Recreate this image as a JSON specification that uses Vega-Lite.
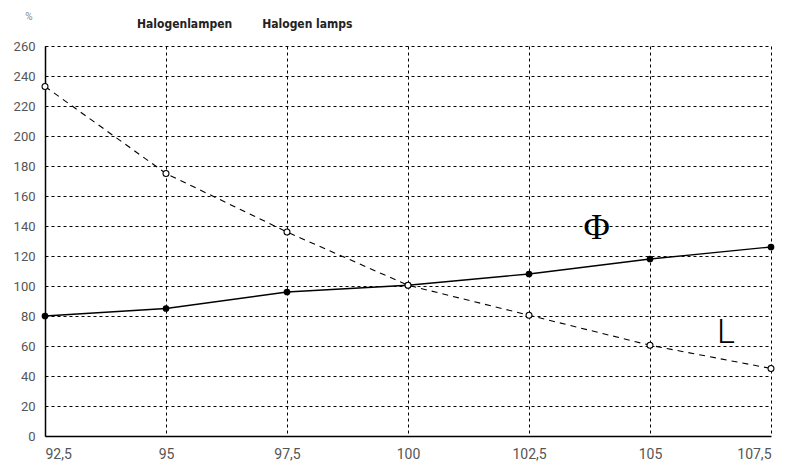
{
  "$schema": "https://vega.github.io/schema/vega-lite/v6.json",
  "width": 726,
  "height": 390,
  "autosize": "none",
  "padding": {"left": 45, "top": 46, "right": 17, "bottom": 31},
  "background": "white",
  "title": {
    "text": "Halogenlampen\u00a0\u00a0\u00a0\u00a0\u00a0\u00a0\u00a0\u00a0Halogen lamps",
    "anchor": "start",
    "frame": "group",
    "dx": 92,
    "dy": 49,
    "offset": 20,
    "baseline": "alphabetic",
    "font": "'DejaVu Sans Condensed', 'Liberation Sans', sans-serif",
    "fontWeight": "bold",
    "fontSize": 12,
    "color": "#222"
  },
  "config": {
    "view": {"stroke": null},
    "axis": {
      "labelFont": "Roboto",
      "labelFontSize": 13,
      "labelColor": "#555",
      "labelOverlap": false,
      "labelBound": false,
      "ticks": false,
      "grid": true,
      "gridColor": "#000",
      "gridDash": [3, 3],
      "gridWidth": 1,
      "gridOpacity": 1,
      "domainColor": "#000",
      "domainWidth": 1.5
    }
  },
  "datasets": {
    "series": [
      {"v": 92.5, "val": 80, "s": "Phi"},
      {"v": 95, "val": 85, "s": "Phi"},
      {"v": 97.5, "val": 96, "s": "Phi"},
      {"v": 100, "val": 100.5, "s": "Phi"},
      {"v": 102.5, "val": 108, "s": "Phi"},
      {"v": 105, "val": 118, "s": "Phi"},
      {"v": 107.5, "val": 126, "s": "Phi"},
      {"v": 92.5, "val": 233, "s": "L"},
      {"v": 95, "val": 175, "s": "L"},
      {"v": 97.5, "val": 136, "s": "L"},
      {"v": 100, "val": 100.5, "s": "L"},
      {"v": 102.5, "val": 80.5, "s": "L"},
      {"v": 105, "val": 60.5, "s": "L"},
      {"v": 107.5, "val": 45, "s": "L"}
    ]
  },
  "encoding": {
    "x": {
      "field": "v", "type": "quantitative",
      "scale": {"domain": [92.5, 107.5], "nice": false, "zero": false},
      "axis": {
        "title": null,
        "values": [92.5, 95, 97.5, 100, 102.5, 105, 107.5],
        "labelExpr": "replace(format(datum.value, '.1~f'), '.', ',')",
        "labelFontSize": 14,
        "labelPadding": 11
      }
    },
    "y": {
      "field": "val", "type": "quantitative",
      "scale": {"domain": [0, 260], "nice": false},
      "axis": {
        "title": "%",
        "titleAngle": 0,
        "titleX": -16.5,
        "titleY": -30,
        "titleAlign": "center",
        "titleBaseline": "middle",
        "titleFont": "Roboto",
        "titleFontWeight": "normal",
        "titleFontSize": 10,
        "titleColor": "#888",
        "values": [0, 20, 40, 60, 80, 100, 120, 140, 160, 180, 200, 220, 240, 260],
        "tickCount": 14,
        "labelPadding": 10
      }
    }
  },
  "layer": [
    {
      "data": {"name": "series"},
      "transform": [{"filter": "datum.s === 'Phi'"}],
      "mark": {"type": "line", "color": "#000", "strokeWidth": 1.3, "point": {"filled": true, "color": "#000", "size": 45}}
    },
    {
      "data": {"name": "series"},
      "transform": [{"filter": "datum.s === 'L'"}],
      "mark": {"type": "line", "color": "#000", "strokeWidth": 1.1, "strokeDash": [6, 5]}
    },
    {
      "data": {"name": "series"},
      "transform": [{"filter": "datum.s === 'L'"}],
      "mark": {"type": "point", "filled": false, "fill": "white", "fillOpacity": 1, "stroke": "#000", "strokeWidth": 1.1, "opacity": 1, "size": 35}
    },
    {
      "data": {"values": [{"v": 103.9, "val": 139, "t": "Φ"}]},
      "mark": {"type": "text", "font": "Liberation Serif", "fontSize": 36, "color": "#000", "baseline": "middle", "align": "center"},
      "encoding": {"text": {"field": "t"}}
    },
    {
      "data": {"values": [{"v": 106.57, "val": 69, "t": "L"}]},
      "mark": {"type": "text", "font": "Roboto", "fontWeight": 300, "fontSize": 34, "color": "#000", "baseline": "middle", "align": "center"},
      "encoding": {"text": {"field": "t"}}
    }
  ]
}
